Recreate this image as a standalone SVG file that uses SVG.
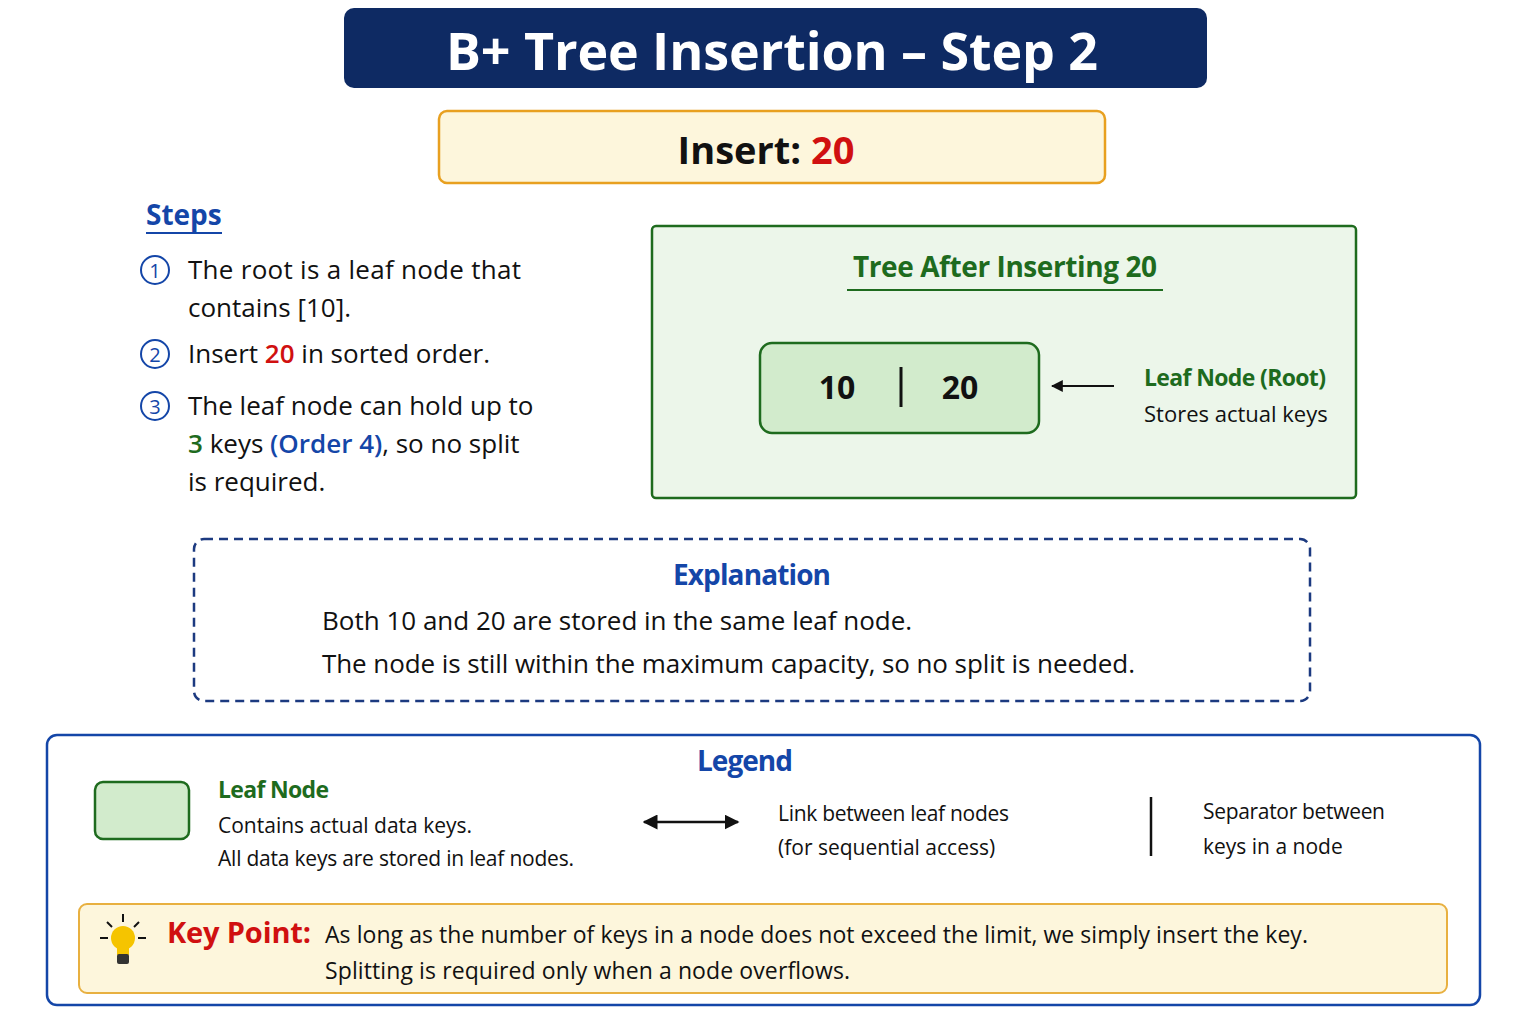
<svg xmlns="http://www.w3.org/2000/svg" width="1536" height="1024" viewBox="0 0 1536 1024">
<style>
text{font-family:"Open Sans","Noto Sans","DejaVu Sans",sans-serif;fill:#111}
.b{font-weight:bold}
.sb{font-weight:600}
.body{font-size:26px}
.sm{font-size:21px}
.blue{fill:#1446a8}
.green{fill:#1e6b1e}
.red{fill:#d01010}
.num{fill:none;stroke:#1446a8;stroke-width:2}
</style>
<defs>
<marker id="ah" viewBox="0 0 10 10" refX="9" refY="5" markerWidth="6" markerHeight="6" orient="auto-start-reverse"><path d="M0,0 L10,5 L0,10 z" fill="#111"/></marker>
<marker id="ahg" viewBox="0 0 10 10" refX="9" refY="5" markerWidth="6" markerHeight="6" orient="auto"><path d="M0,0 L10,5 L0,10 z" fill="#111"/></marker>
</defs>
<rect width="1536" height="1024" fill="#fff"/>
<g id="title"><rect x="344" y="8" width="863" height="80" rx="10" fill="#0e2a63"/>
<text x="772" y="70" text-anchor="middle" font-size="52" class="b" style="fill:#fff" textLength="652">B+ Tree Insertion – Step 2</text></g>
<g id="insert"><rect x="439" y="111" width="666" height="72" rx="8" fill="#fdf6dc" stroke="#e8a020" stroke-width="2.5"/>
<text x="766" y="164" text-anchor="middle" font-size="38" class="b">Insert: <tspan class="red">20</tspan></text></g>
<g id="steps">
<text x="146" y="225" font-size="28" class="b blue">Steps</text>
<line x1="146" y1="233" x2="222" y2="233" stroke="#1446a8" stroke-width="2"/>
<circle class="num" cx="155" cy="270" r="14"/><text x="155" y="278" text-anchor="middle" font-size="20" class="blue">1</text>
<text x="188" y="279" class="body" textLength="333">The root is a leaf node that</text>
<text x="188" y="317" class="body">contains [10].</text>
<circle class="num" cx="155" cy="354" r="14"/><text x="155" y="362" text-anchor="middle" font-size="20" class="blue">2</text>
<text x="188" y="363" class="body">Insert <tspan class="red sb">20</tspan> in sorted order.</text>
<circle class="num" cx="155" cy="406" r="14"/><text x="155" y="414" text-anchor="middle" font-size="20" class="blue">3</text>
<text x="188" y="415" class="body">The leaf node can hold up to</text>
<text x="188" y="453" class="body"><tspan class="green sb">3</tspan> keys <tspan class="blue sb">(Order 4)</tspan>, so no split</text>
<text x="188" y="491" class="body">is required.</text>
</g>
<g id="tree"><rect x="652" y="226" width="704" height="272" rx="4" fill="#ecf6ea" stroke="#1e6b1e" stroke-width="2.5"/>
<text x="1005" y="277" text-anchor="middle" font-size="28" class="b green" textLength="304">Tree After Inserting 20</text>
<line x1="847" y1="290" x2="1163" y2="290" stroke="#1e6b1e" stroke-width="2"/></g>
<g id="leaf"><rect x="760" y="343" width="279" height="90" rx="12" fill="#d2ebcc" stroke="#1e6b1e" stroke-width="2.5"/>
<text x="837" y="399" text-anchor="middle" font-size="32" class="b">10</text>
<line x1="901" y1="367" x2="901" y2="407" stroke="#111" stroke-width="3"/>
<text x="960" y="399" text-anchor="middle" font-size="32" class="b">20</text></g>
<g id="leaflabel"><text x="1144" y="386" font-size="23" class="b green" textLength="182">Leaf Node (Root)</text>
<text x="1144" y="422" font-size="22">Stores actual keys</text></g>
<g id="connectors"><line x1="1114" y1="386" x2="1052" y2="386" stroke="#111" stroke-width="2" marker-end="url(#ahg)"/></g>
<g id="explanation"><rect x="194" y="539" width="1116" height="162" rx="10" fill="#fff" stroke="#1c3a80" stroke-width="2.5" stroke-dasharray="9 6"/>
<text x="752" y="585" text-anchor="middle" font-size="28" class="b blue" textLength="158">Explanation</text>
<text x="322" y="630" class="body">Both 10 and 20 are stored in the same leaf node.</text>
<text x="322" y="673" class="body" textLength="813">The node is still within the maximum capacity, so no split is needed.</text></g>
<g id="legend"><rect x="47" y="735" width="1433" height="270" rx="10" fill="#fff" stroke="#1446a8" stroke-width="2.5"/>
<text x="745" y="771" text-anchor="middle" font-size="28" class="b blue" textLength="96">Legend</text>
<rect x="95" y="782" width="94" height="57" rx="8" fill="#d2ebcc" stroke="#1e6b1e" stroke-width="2.5"/>
<text x="218" y="798" font-size="23" class="b green" textLength="111">Leaf Node</text>
<text x="218" y="833" class="sm">Contains actual data keys.</text>
<text x="218" y="866" class="sm" textLength="356">All data keys are stored in leaf nodes.</text>
<line x1="644" y1="822" x2="738" y2="822" stroke="#111" stroke-width="2.5" marker-start="url(#ah)" marker-end="url(#ah)"/>
<text x="778" y="821" class="sm" textLength="231">Link between leaf nodes</text>
<text x="778" y="855" class="sm">(for sequential access)</text>
<line x1="1151" y1="797" x2="1151" y2="856" stroke="#111" stroke-width="2.5"/>
<text x="1203" y="819" class="sm" textLength="182">Separator between</text>
<text x="1203" y="854" class="sm">keys in a node</text></g>
<g id="keypoint"><rect x="79" y="904" width="1368" height="89" rx="8" fill="#fdf6dc" stroke="#e8b040" stroke-width="2"/>
<g stroke="#111" stroke-width="2"><line x1="100" y1="938" x2="108" y2="938"/><line x1="138" y1="938" x2="146" y2="938"/><line x1="123" y1="914" x2="123" y2="922"/><line x1="107" y1="922" x2="112" y2="927"/><line x1="139" y1="922" x2="134" y2="927"/></g>
<circle cx="123" cy="938" r="12" fill="#f5c400"/><rect x="117" y="947" width="12" height="8" fill="#f5c400"/>
<rect x="117" y="954" width="12" height="10" rx="2" fill="#333"/>
<text x="167" y="943" font-size="29" class="b red" textLength="144">Key Point:</text>
<text x="325" y="943" font-size="23" textLength="983">As long as the number of keys in a node does not exceed the limit, we simply insert the key.</text>
<text x="325" y="979" font-size="23" textLength="525">Splitting is required only when a node overflows.</text></g>
</svg>
